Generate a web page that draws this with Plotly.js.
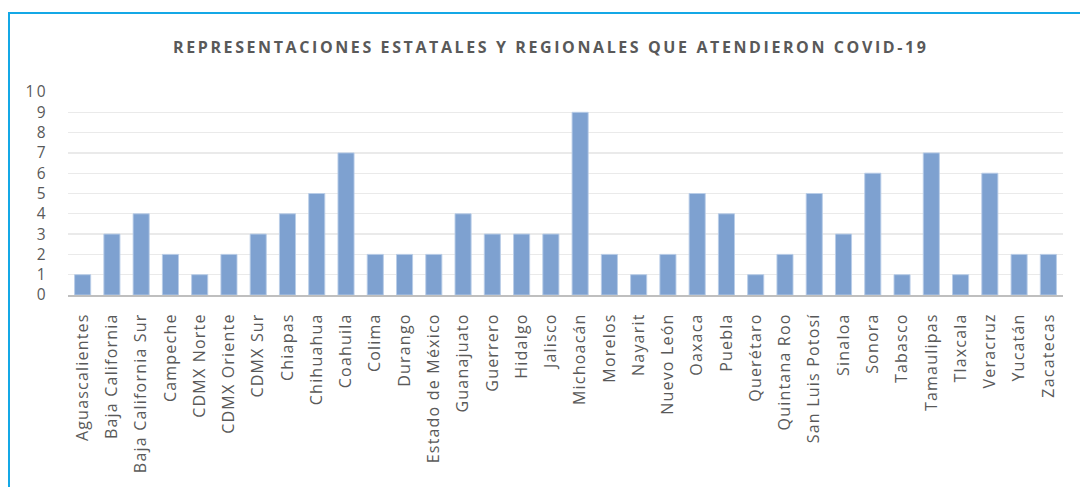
<!DOCTYPE html>
<html>
<head>
<meta charset="utf-8">
<script src="https://cdn.plot.ly/plotly-3.0.1.min.js"></script>
<style>
  html, body { margin: 0; padding: 0; background: #fff; }
  #chart { width: 1080px; height: 487px; }
  #frame { position: absolute; left: 8px; top: 12px; width: 1072px; height: 475px;
           border-left: 2px solid #14A8E6; border-top: 2px solid #14A8E6; pointer-events: none; }
  .gtitle { letter-spacing: 2.6px; }
  .xtick text { letter-spacing: 1.2px; }
  .ytick text { letter-spacing: 2.4px; }
</style>
</head>
<body>
<div id="chart"></div>
<div id="frame"></div>
<script>
const categories = ["Aguascalientes","Baja California","Baja California Sur","Campeche","CDMX Norte","CDMX Oriente","CDMX Sur","Chiapas","Chihuahua","Coahuila","Colima","Durango","Estado de México","Guanajuato","Guerrero","Hidalgo","Jalisco","Michoacán","Morelos","Nayarit","Nuevo León","Oaxaca","Puebla","Querétaro","Quintana Roo","San Luis Potosí","Sinaloa","Sonora","Tabasco","Tamaulipas","Tlaxcala","Veracruz","Yucatán","Zacatecas"];
const values = [1,3,4,2,1,2,3,4,5,7,2,2,2,4,3,3,3,9,2,1,2,5,4,1,2,5,3,6,1,7,1,6,2,2];
const yTicks = [0,1,2,3,4,5,6,7,8,9,10];
const titleText = "REPRESENTACIONES ESTATALES Y REGIONALES QUE ATENDIERON COVID-19";

const trace = {
  type: "bar",
  x: categories,
  y: values,
  marker: { color: "rgb(126,161,208)", line: { color: "rgba(185,205,232,0.9)", width: 1 } },
  hoverinfo: "x+y"
};

const layout = {
  width: 1080, height: 487,
  paper_bgcolor: "#ffffff", plot_bgcolor: "#ffffff",
  margin: { l: 68, r: 17, t: 92, b: 192 },
  bargap: 0.45,
  showlegend: false,
  font: { family: "Open Sans, sans-serif", color: "#595959" },
  title: {
    text: "<b>" + titleText + "</b>",
    font: { family: "Open Sans, sans-serif", size: 16, color: "#595959" },
    xref: "container", x: 0.51, xanchor: "center",
    yref: "container", y: 0.902, yanchor: "middle"
  },
  xaxis: {
    type: "category",
    tickangle: -90,
    tickfont: { size: 16, color: "#595959" },
    ticks: "", showgrid: false, zeroline: false,
    showline: true, linecolor: "#BFBFBF", linewidth: 2,
    ticklabelstandoff: 10
  },
  yaxis: {
    range: [0, 10],
    tickvals: yTicks,
    ticktext: yTicks.map(String),
    tickfont: { size: 15.5, color: "#595959" },
    ticks: "", showline: false, zeroline: false,
    showgrid: true, gridcolor: "#EAEAEA", gridwidth: 1.3,
    ticklabelstandoff: 19
  }
};

Plotly.newPlot("chart", [trace], layout, { displayModeBar: false, staticPlot: true });
</script>
</body>
</html>
